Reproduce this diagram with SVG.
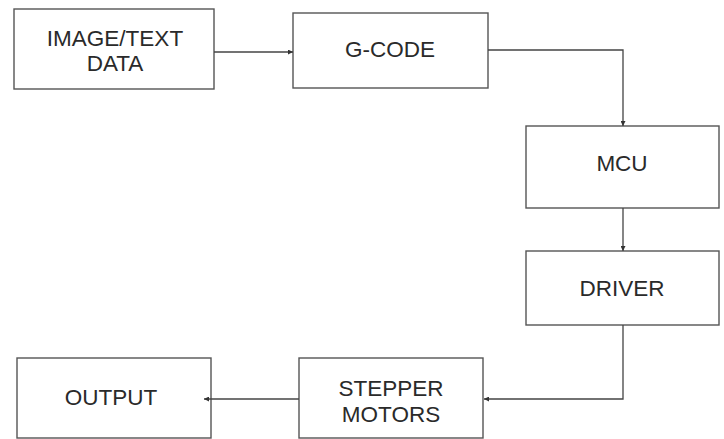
<svg xmlns="http://www.w3.org/2000/svg" width="724" height="439" viewBox="0 0 724 439">
<style>
.box{fill:#fff;stroke:#555;stroke-width:1.4}
.lbl{font-family:"Liberation Sans",Arial,sans-serif;font-size:22.5px;fill:#2a2a2a;text-anchor:middle}
.conn{fill:none;stroke:#444;stroke-width:1.3}
</style>
<defs>
<marker id="ah" viewBox="0 0 10 10" refX="10" refY="5" markerWidth="5" markerHeight="5" orient="auto" markerUnits="userSpaceOnUse">
<path d="M0,0 L10,5 L0,10 z" fill="#333"/>
</marker>
</defs>
<rect width="724" height="439" fill="#fff"/>
<g id="image-text-data">
<rect class="box" x="14" y="9" width="200" height="80"/>
<text class="lbl" x="115" y="46">IMAGE/TEXT</text>
<text class="lbl" x="115" y="71">DATA</text>
</g>
<g id="g-code">
<rect class="box" x="293" y="13" width="195" height="75"/>
<text class="lbl" x="390" y="57">G-CODE</text>
</g>
<g id="mcu">
<rect class="box" x="526" y="126" width="193" height="82"/>
<text class="lbl" x="622" y="171">MCU</text>
</g>
<g id="driver">
<rect class="box" x="526" y="251" width="193" height="74"/>
<text class="lbl" x="622" y="296">DRIVER</text>
</g>
<g id="stepper-motors">
<rect class="box" x="299" y="358" width="184" height="80"/>
<text class="lbl" x="391" y="396">STEPPER</text>
<text class="lbl" x="391" y="422">MOTORS</text>
</g>
<g id="output">
<rect class="box" x="17" y="358" width="194" height="80"/>
<text class="lbl" x="111" y="405">OUTPUT</text>
</g>
<g id="connectors">
<path class="conn" d="M214,52 H293" marker-end="url(#ah)"/>
<path class="conn" d="M488,50 H623 V126" marker-end="url(#ah)"/>
<path class="conn" d="M623,208 V251" marker-end="url(#ah)"/>
<path class="conn" d="M623,325 V399 H484" marker-end="url(#ah)"/>
<path class="conn" d="M299,399 H204" marker-end="url(#ah)"/>
</g>
</svg>
